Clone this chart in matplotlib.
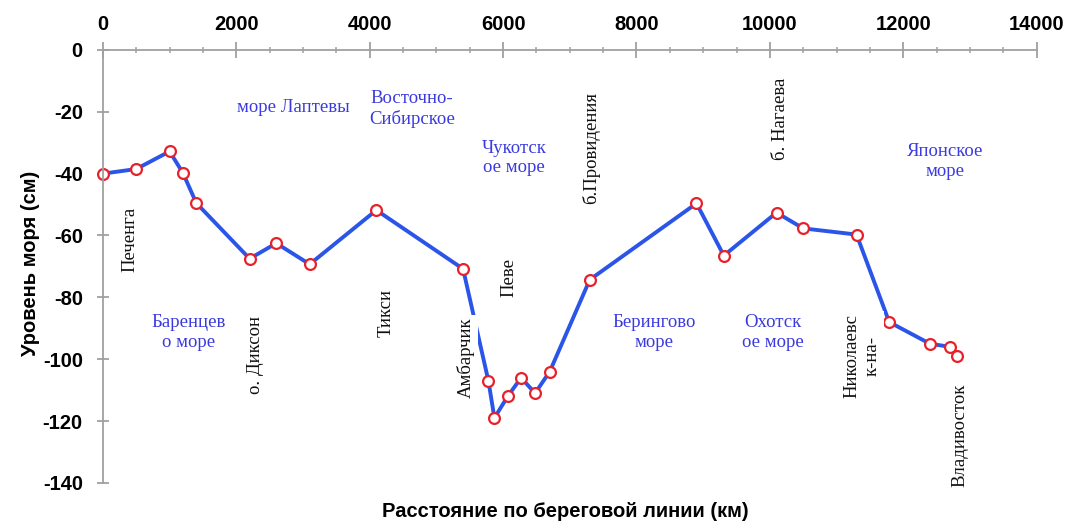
import matplotlib
matplotlib.use("Agg")
import matplotlib.pyplot as plt
from matplotlib.ticker import MultipleLocator

# ---- data ----
distance_km = [0, 500, 1000, 1200, 1400, 2200, 2600, 3100, 4100, 5400,
               5780, 5870, 6070, 6270, 6480, 6700, 7300, 8900, 9310, 10100,
               10500, 11300, 11790, 12400, 12700, 12810]
sea_level_cm = [-40, -38.5, -32.8, -39.8, -49.5, -67.5, -62.5, -69.3, -51.8, -70.8,
                -107, -119, -112, -106, -111, -104, -74.3, -49.6, -66.5, -52.6,
                -57.7, -59.7, -88, -95, -96, -99]

station_names = ["Печенга", "о. Диксон", "Тикси", "Амбарчик", "Певе",
                 "б.Провидения", "б. Нагаева", "Николаевс\nк-на-", "Владивосток"]
station_x = [405, 2295, 4245, 5445, 6090, 7320, 10155, 11385, 12855]
station_y = [-61.4, -98.5, -85, -99.5, -73.7, -31.7, -22.3, -99, -124.7]

sea_names = ["море Лаптевы", "Восточно-\nСибирское", "Чукотск\nое море",
             "Баренцев\nо море", "Берингово\nморе", "Охотск\nое море", "Японское\nморе"]
sea_x = [2850, 4635, 6165, 1290, 8265, 10050, 12630]
sea_y = [-18.7, -19.0, -35.0, -91.4, -91.4, -91.4, -36.0]

x_ticks = [0, 2000, 4000, 6000, 8000, 10000, 12000, 14000]
y_ticks = [0, -20, -40, -60, -80, -100, -120, -140]

# ---- figure ----
fig = plt.figure(figsize=(10.72, 5.26), dpi=100)
ax = fig.add_axes([0.096, 0.082, 0.871, 0.823])

ax.plot(distance_km, sea_level_cm, color="#2a55e8", lw=2.8, zorder=2,
        marker="o", markersize=7.8, markerfacecolor="white",
        markeredgecolor="#e8202a", markeredgewidth=1.6, clip_on=False)

ax.set_xlim(0, 14000)
ax.set_ylim(-140, 0)

for s in ["right", "bottom"]:
    ax.spines[s].set_visible(False)
for s in ["top", "left"]:
    ax.spines[s].set_color("#a0a0a0")
    ax.spines[s].set_linewidth(1.3)

ax.xaxis.tick_top()
ax.set_xticks(x_ticks)
ax.xaxis.set_minor_locator(MultipleLocator(500))
ax.set_yticks(y_ticks)
ax.tick_params(axis="x", which="major", direction="inout", length=11, width=1.3,
               color="#a0a0a0", pad=6)
ax.tick_params(axis="x", which="minor", direction="inout", length=5, width=1.1,
               color="#a0a0a0")
ax.tick_params(axis="y", which="major", direction="inout", length=9, width=1.3,
               color="#a0a0a0", pad=10)

lab_font = dict(family="Liberation Sans", weight="bold", size=14.5)
ax.set_xticklabels([str(v) for v in x_ticks], fontdict=lab_font)
ax.set_yticklabels([str(v) for v in y_ticks], fontdict=lab_font)

for name, x, y in zip(station_names, station_x, station_y):
    bbox = None
    if name.startswith("Амбарчик") or name.startswith("Николаевс"):
        bbox = dict(facecolor="white", edgecolor="none", pad=2.0)
    ax.text(x, y, name, rotation=90, ha="center", va="center",
            family="Liberation Serif", size=13.5, color="#111111",
            linespacing=1.25, zorder=4, bbox=bbox)

for name, x, y in zip(sea_names, sea_x, sea_y):
    ax.text(x, y, name, ha="center", va="center", family="Liberation Serif",
            size=13.5, color="#3a3ae0", linespacing=1.2, zorder=4)

fig.text(0.527, 0.028, "Расстояние по береговой линии (км)", ha="center",
         va="center", family="Liberation Sans", weight="bold", size=14.5)
fig.text(0.028, 0.5, "Уровень моря (см)", ha="center", va="center",
         rotation=90, family="Liberation Sans", weight="bold", size=14.5)

fig.savefig("out.png", dpi=100)
